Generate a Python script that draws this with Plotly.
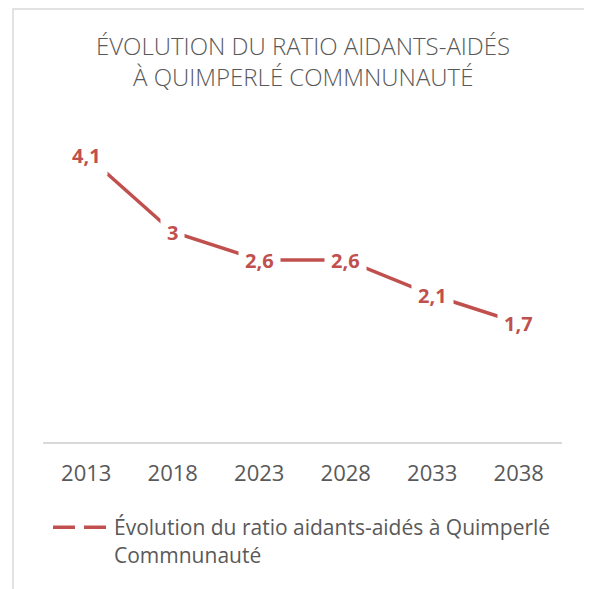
import plotly.graph_objects as go

# data
years = ["2013", "2018", "2023", "2028", "2033", "2038"]
ratio = [4.1, 3.0, 2.6, 2.6, 2.1, 1.7]
labels = ["4,1", "3", "2,6", "2,6", "2,1", "1,7"]
series_name = "Évolution du ratio aidants-aidés à Quimperlé<br>Commnunauté"
title_lines = ["ÉVOLUTION DU RATIO AIDANTS-AIDÉS", "À QUIMPERLÉ COMMNUNAUTÉ"]

red = "#C0504D"
gray = "#595959"
font = "Open Sans"

# the page body adds an 8px margin, so the figure is drawn 8px smaller
OFF = 8
W, H = 592 - OFF, 589 - OFF
L, R, T, B = 43 - OFF, 30, 92 - OFF, 147
plot_w = W - L - R
plot_h = H - T - B


def px_x(p):
    # p is a pixel position in the reference picture
    return (p - OFF - L) / plot_w


def px_y(p):
    return (H - B - (p - OFF)) / plot_h


fig = go.Figure()

# main line, no legend entry
fig.add_trace(go.Scatter(
    x=years, y=ratio, mode="lines",
    line=dict(color=red, width=3.5),
    showlegend=False, hoverinfo="skip"
))

# legend entry (Excel draws the symbol dashed)
fig.add_trace(go.Scatter(
    x=[years[0]], y=[None], mode="lines", name=series_name,
    line=dict(color=red, width=3.5, dash="22px,9px")
))

# data labels with white background so the line is cut around them
for i, (v, lab) in enumerate(zip(ratio, labels)):
    fig.add_annotation(
        x=i, y=v, text=lab,
        showarrow=False, bgcolor="white", borderpad=6,
        font=dict(family=font, size=20, color=red, weight="bold"),
        xanchor="center", yanchor="middle"
    )

# two title lines
for i, line in enumerate(title_lines):
    fig.add_annotation(
        xref="paper", yref="paper", x=0.5, y=px_y([46, 77][i]),
        text=line, showarrow=False, xanchor="center", yanchor="middle",
        font=dict(family=font, size=24, color=gray, weight=300)
    )

# chart area border
fig.add_shape(
    type="rect", xref="paper", yref="paper",
    x0=px_x(13), x1=px_x(589), y0=px_y(610), y1=px_y(9),
    line=dict(color="#D9D9D9", width=1.5), layer="below"
)

fig.update_layout(
    width=W, height=H,
    margin=dict(l=L, r=R, t=T, b=B),
    paper_bgcolor="white", plot_bgcolor="white",
    font=dict(family=font, color=gray),
    showlegend=True,
    legend=dict(
        x=px_x(48), y=px_y(507), xanchor="left", yanchor="top",
        font=dict(family=font, size=21, color=gray),
        valign="top", itemwidth=56, bgcolor="rgba(0,0,0,0)"
    ),
    xaxis=dict(
        type="category", categoryorder="array", categoryarray=years,
        range=[-0.5, len(years) - 0.5],
        showgrid=False, zeroline=False,
        showline=True, linecolor="#D9D9D9", linewidth=1.5,
        ticks="", ticklabelstandoff=11,
        tickfont=dict(family=font, size=22, color=gray)
    ),
    yaxis=dict(
        range=[0, 5], visible=False, showgrid=False, zeroline=False
    ),
)

fig.write_html("out.html")
